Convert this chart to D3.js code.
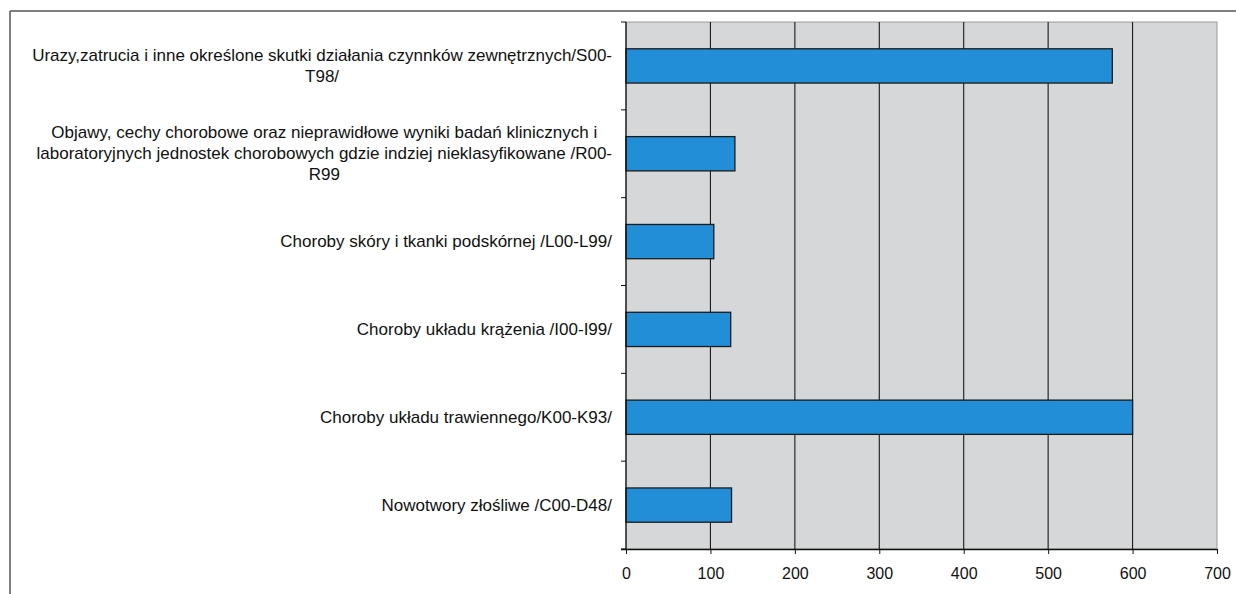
<!DOCTYPE html>
<html>
<head>
<meta charset="utf-8">
<script src="https://cdn.jsdelivr.net/npm/d3@7/dist/d3.min.js"></script>
<style>
  html, body { margin: 0; padding: 0; background: #fff; }
  svg { display: block; }
  text { font-family: "Liberation Sans", Arial, sans-serif; fill: #111; }
</style>
</head>
<body>
<svg id="chart" width="1236" height="594"></svg>
<script>
const categories = [
  "Urazy,zatrucia i inne określone skutki działania czynnków zewnętrznych/S00-\nT98/",
  "Objawy, cechy chorobowe oraz nieprawidłowe wyniki badań klinicznych i\nlaboratoryjnych jednostek chorobowych gdzie indziej nieklasyfikowane /R00-\nR99",
  "Choroby skóry i tkanki podskórnej /L00-L99/",
  "Choroby układu krążenia /I00-I99/",
  "Choroby układu trawiennego/K00-K93/",
  "Nowotwory złośliwe /C00-D48/"
];
const values = [576, 129, 104, 124, 600, 125];
const xTicks = [0, 100, 200, 300, 400, 500, 600, 700];

(function () {
const svg = d3.select("#chart");
const pLeft = 626, pRight = 1217, pTop = 22, pBottom = 549;

// outer frame (top and left edges visible)
svg.append("line").attr("x1", 10).attr("x2", 1236).attr("y1", 11).attr("y2", 11)
  .attr("stroke", "#555").attr("stroke-width", 1.5);
svg.append("line").attr("x1", 10).attr("x2", 10).attr("y1", 11).attr("y2", 594)
  .attr("stroke", "#555").attr("stroke-width", 1.5);

const x = d3.scaleLinear().domain([0, 700]).range([pLeft, pRight]);
const y = d3.scaleBand().domain(d3.range(categories.length)).range([pTop, pBottom]).paddingInner(0.61).paddingOuter(0.305);
const yOuter = d3.scaleBand().domain(d3.range(categories.length)).range([pTop, pBottom]);

// plot background
svg.append("rect").attr("x", pLeft).attr("y", pTop).attr("width", pRight - pLeft).attr("height", pBottom - pTop)
  .attr("fill", "#d5d7d8").attr("stroke", "#9a9c9c").attr("stroke-width", 1);

// gridlines
svg.append("g").selectAll("line").data(xTicks.filter(d => d > 0 && d < 700)).join("line")
  .attr("x1", d => x(d)).attr("x2", d => x(d)).attr("y1", pTop).attr("y2", pBottom)
  .attr("stroke", "#1a1a1a").attr("stroke-width", 1.1);

// bars
svg.append("g").selectAll("rect").data(values).join("rect")
  .attr("x", x(0)).attr("y", (d, i) => y(i))
  .attr("width", d => x(d) - x(0)).attr("height", y.bandwidth())
  .attr("fill", "#228ed8").attr("stroke", "#1b1b1b").attr("stroke-width", 1.3);

// x axis
const xAxis = d3.axisBottom(x).tickValues(xTicks).tickSize(5).tickPadding(14).tickFormat(d3.format("d"));
const gx = svg.append("g").attr("transform", `translate(0,${pBottom})`).call(xAxis);
gx.select(".domain").attr("stroke", "#111").attr("stroke-width", 1.3).attr("d", `M${pLeft - 5},0.5H${pRight}`);
gx.selectAll(".tick line").attr("stroke", "#111");
gx.selectAll(".tick text").attr("font-size", 16).attr("font-family", "Liberation Sans, Arial, sans-serif").attr("fill", "#111");

// y axis line with ticks at band boundaries
svg.append("line").attr("x1", pLeft).attr("x2", pLeft).attr("y1", pTop).attr("y2", pBottom)
  .attr("stroke", "#111").attr("stroke-width", 1.3);
svg.append("g").selectAll("line").data(d3.range(categories.length + 1)).join("line")
  .attr("x1", pLeft - 5).attr("x2", pLeft)
  .attr("y1", i => pTop + i * yOuter.step()).attr("y2", i => pTop + i * yOuter.step())
  .attr("stroke", "#111").attr("stroke-width", 1);

// category labels
const lineH = 21;
const labelRight = 612;
categories.forEach((c, i) => {
  const lines = c.split("\n");
  const g = svg.append("g");
  const cy = yOuter(i) + yOuter.bandwidth() / 2;
  const t = g.selectAll("text").data(lines).join("text")
    .attr("font-size", 17)
    .attr("text-anchor", "middle")
    .attr("dominant-baseline", "central")
    .attr("y", (d, k) => cy + (k - (lines.length - 1) / 2) * lineH)
    .text(d => d);
  let w = 0;
  t.each(function() { w = Math.max(w, this.getComputedTextLength()); });
  t.attr("x", labelRight - w / 2);
});
})();
</script>
</body>
</html>
